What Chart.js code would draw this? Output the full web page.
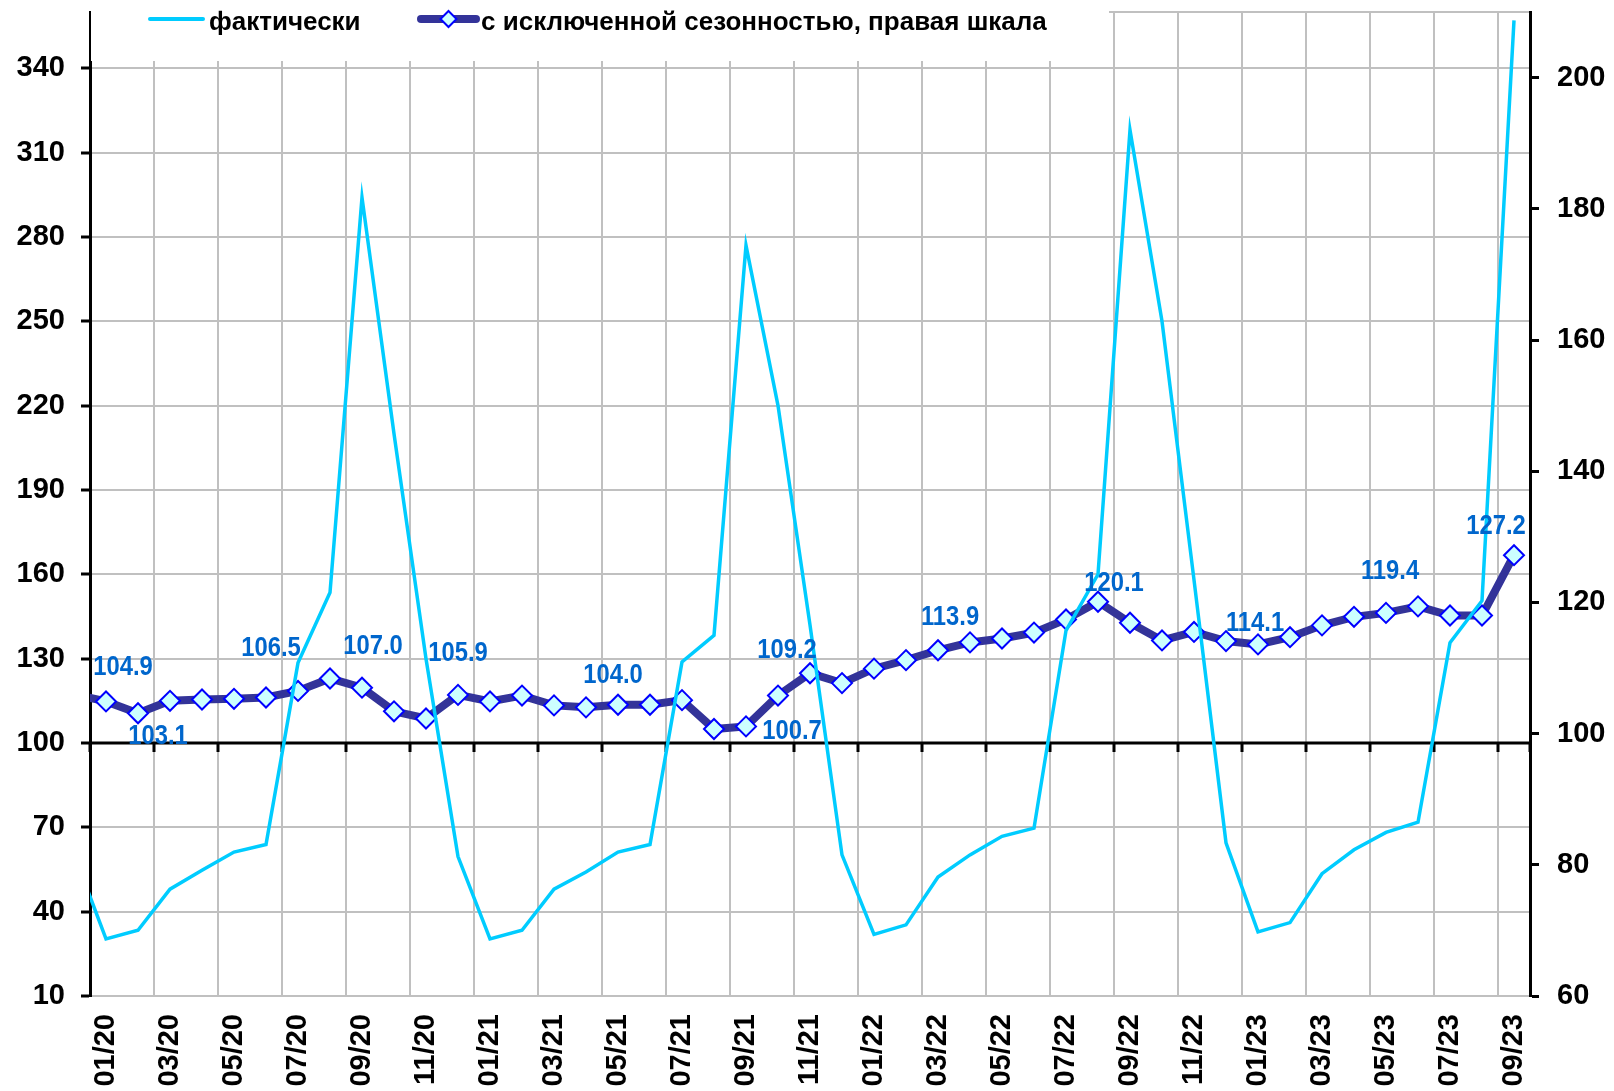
<!DOCTYPE html>
<html>
<head>
<meta charset="utf-8">
<script src="https://cdn.jsdelivr.net/npm/chart.js@4/dist/chart.umd.min.js"></script>
<style>
  html, body { margin: 0; padding: 0; background: #fff; }
  #wrap { width: 1614px; height: 1091px; position: relative; }
</style>
</head>
<body>
<div id="wrap"><canvas id="chart"></canvas></div>
<script>
// months: the first one (12/19) sits left of the visible axis and only gives the line its slope
const months = [
  '12/19',
  '01/20', '02/20', '03/20', '04/20', '05/20', '06/20', '07/20', '08/20', '09/20', '10/20', '11/20', '12/20',
  '01/21', '02/21', '03/21', '04/21', '05/21', '06/21', '07/21', '08/21', '09/21', '10/21', '11/21', '12/21',
  '01/22', '02/22', '03/22', '04/22', '05/22', '06/22', '07/22', '08/22', '09/22', '10/22', '11/22', '12/22',
  '01/23', '02/23', '03/23', '04/23', '05/23', '06/23', '07/23', '08/23', '09/23'
];

// фактически (left scale)
const actual = [
  60.5,
  30.3, 33.4, 48.0, 54.7, 61.2, 63.9, 128.5, 153.5, 294, 210, 130, 59.6,
  30.3, 33.4, 48.0, 54.1, 61.2, 63.9, 128.8, 138.3, 277, 220, 142, 60.2,
  31.9, 35.3, 52.3, 60.2, 66.8, 69.7, 140, 160, 318, 250, 158, 64.5,
  32.8, 36.1, 53.5, 62.0, 68.2, 71.8, 135.7, 150.6, 357
];

// с исключенной сезонностью (right scale)
const seasAdj = [
  106.0,
  104.9, 103.1, 105.0, 105.2, 105.3, 105.5, 106.5, 108.4, 107.0, 103.4, 102.3, 105.9,
  104.9, 105.8, 104.3, 104.0, 104.4, 104.4, 105.1, 100.7, 101.1, 105.8, 109.2, 107.7,
  109.9, 111.2, 112.7, 113.9, 114.5, 115.4, 117.4, 120.1, 116.9, 114.2, 115.5, 114.1,
  113.6, 114.7, 116.5, 117.8, 118.4, 119.4, 118.0, 118.0, 127.2
];

// x tick labels (every second month) and the boundaries where gridlines sit
const xTickLabels = [
  '01/20', '03/20', '05/20', '07/20', '09/20', '11/20',
  '01/21', '03/21', '05/21', '07/21', '09/21', '11/21',
  '01/22', '03/22', '05/22', '07/22', '09/22', '11/22',
  '01/23', '03/23', '05/23', '07/23', '09/23'
];
const xGrid = [];
for (let v = 0.5; v <= 45.5; v += 2) xGrid.push(v);
xGrid.push(45.5);

const leftTicks = [10, 40, 70, 100, 130, 160, 190, 220, 250, 280, 310, 340];
const rightTicks = [60, 80, 100, 120, 140, 160, 180, 200];

// which points of the seasonally adjusted line carry a value label
const labeledPoints = [1, 2, 7, 9, 12, 16, 20, 23, 28, 32, 36, 42, 45];
// label placement relative to its point (px)
const labelShift = {
  1: [17, -34], 2: [20, 23], 7: [-27, -43], 9: [11, -41], 12: [0, -42],
  16: [27, -32], 20: [78, 2], 23: [-23, -23], 28: [-20, -25], 32: [16, -18],
  36: [29, -18], 42: [-28, -35], 45: [-18, -29]
};

const FONT = '"Liberation Sans", Arial, sans-serif';
const CYAN = '#00CCFF';
const NAVY = '#333399';

const baseLine = {
  id: 'baseLine',
  beforeDatasetsDraw(chart) {
    const { ctx, chartArea, scales } = chart;
    const y = scales.y.getPixelForValue(100);
    ctx.save();
    ctx.strokeStyle = '#000';
    ctx.lineWidth = 3;
    ctx.beginPath();
    ctx.moveTo(chartArea.left, y);
    ctx.lineTo(chartArea.right, y);
    xGrid.forEach(v => {
      const x = scales.x.getPixelForValue(v);
      ctx.moveTo(x, y);
      ctx.lineTo(x, y + 9);
    });
    ctx.stroke();
    ctx.restore();
  }
};

// value labels: slightly condensed bold digits like the original
const valueLabels = {
  id: 'valueLabels',
  afterDatasetsDraw(chart) {
    const { ctx } = chart;
    const meta = chart.getDatasetMeta(1);
    ctx.save();
    ctx.font = 'bold 28px ' + FONT;
    ctx.fillStyle = '#0066CC';
    ctx.textAlign = 'center';
    ctx.textBaseline = 'middle';
    labeledPoints.forEach(i => {
      const pt = meta.data[i];
      const s = labelShift[i];
      ctx.save();
      ctx.translate(pt.x + s[0], pt.y + s[1]);
      ctx.scale(0.85, 1);
      ctx.fillText(seasAdj[i].toFixed(1), 0, 0);
      ctx.restore();
    });
    ctx.restore();
  }
};

const legendBox = {
  id: 'legendBox',
  afterDraw(chart) {
    const { ctx, chartArea } = chart;
    ctx.save();
    ctx.fillStyle = '#fff';
    ctx.fillRect(chartArea.left + 1, 0, 1109 - chartArea.left - 1, 61);

    const ly = 19;
    ctx.lineCap = 'round';
    ctx.strokeStyle = CYAN;
    ctx.lineWidth = 4;
    ctx.beginPath();
    ctx.moveTo(150, ly);
    ctx.lineTo(203, ly);
    ctx.stroke();

    ctx.strokeStyle = NAVY;
    ctx.lineWidth = 8;
    ctx.beginPath();
    ctx.moveTo(421, ly);
    ctx.lineTo(476, ly);
    ctx.stroke();
    ctx.fillStyle = '#CCFFFF';
    ctx.strokeStyle = '#0000FF';
    ctx.lineWidth = 2;
    ctx.beginPath();
    ctx.moveTo(448.5, ly - 8);
    ctx.lineTo(456.5, ly);
    ctx.lineTo(448.5, ly + 8);
    ctx.lineTo(440.5, ly);
    ctx.closePath();
    ctx.fill();
    ctx.stroke();

    ctx.fillStyle = '#000';
    ctx.font = 'bold 26px ' + FONT;
    ctx.textBaseline = 'alphabetic';
    ctx.textAlign = 'left';
    ctx.fillText('фактически', 209, 30);
    ctx.fillText('с исключенной сезонностью, правая шкала', 481, 30);
    ctx.restore();
  }
};

function noPad(scale) {
  scale.paddingTop = 0;
  scale.paddingBottom = 0;
  scale.paddingLeft = 0;
  scale.paddingRight = 0;
}

const ctx = document.getElementById('chart').getContext('2d');

new Chart(ctx, {
  type: 'line',
  data: {
    datasets: [
      {
        label: 'фактически',
        data: actual.map((v, i) => ({ x: i, y: v })),
        yAxisID: 'y',
        borderColor: CYAN,
        borderWidth: 3.5,
        pointRadius: 0,
        fill: false,
        tension: 0,
        clip: 0
      },
      {
        label: 'с исключенной сезонностью, правая шкала',
        data: seasAdj.map((v, i) => ({ x: i, y: v })),
        yAxisID: 'y1',
        borderColor: NAVY,
        borderWidth: 8,
        pointStyle: 'rectRot',
        pointRadius: 10,
        pointBorderWidth: 2,
        pointBackgroundColor: '#CCFFFF',
        pointBorderColor: '#0000FF',
        fill: false,
        tension: 0,
        clip: 0
      }
    ]
  },
  options: {
    responsive: true,
    maintainAspectRatio: false,
    animation: false,
    layout: { padding: { top: 8, left: 0, right: 0, bottom: 0 } },
    plugins: {
      legend: { display: false },
      tooltip: { enabled: false }
    },
    scales: {
      x: {
        type: 'linear',
        min: 0.5,
        max: 45.5,
        afterBuildTicks: scale => { scale.ticks = xGrid.map(v => ({ value: v })); },
        afterFit: scale => { scale.height = 95; noPad(scale); },
        ticks: {
          autoSkip: false,
          minRotation: 90,
          maxRotation: 90,
          labelOffset: 16,
          padding: 18,
          color: '#000',
          font: { family: FONT, size: 29, weight: 'bold' },
          callback: (value, index) => xTickLabels[index] || ''
        },
        grid: { color: '#C0C0C0', lineWidth: 2, drawTicks: false },
        border: { display: false }
      },
      y: {
        position: 'left',
        min: 10,
        max: 360,
        afterBuildTicks: scale => { scale.ticks = leftTicks.concat([360]).map(v => ({ value: v })); },
        afterFit: scale => { scale.width = 90; noPad(scale); },
        ticks: {
          padding: 16,
          color: '#000',
          font: { family: FONT, size: 29, weight: 'bold' },
          callback: v => (v === 360 ? '' : v)
        },
        grid: {
          color: '#C0C0C0',
          lineWidth: 2,
          tickLength: 9,
          tickWidth: 3,
          tickColor: c => (c.tick && c.tick.value === 360 ? 'rgba(0,0,0,0)' : '#000')
        },
        border: { display: true, color: '#000', width: 3 }
      },
      y1: {
        position: 'right',
        min: 60,
        max: 210,
        afterBuildTicks: scale => { scale.ticks = rightTicks.map(v => ({ value: v })); },
        afterFit: scale => { scale.width = 84; noPad(scale); },
        ticks: {
          padding: 18,
          color: '#000',
          font: { family: FONT, size: 29, weight: 'bold' }
        },
        grid: { drawOnChartArea: false, tickLength: 9, tickWidth: 3, tickColor: '#000' },
        border: { display: true, color: '#000', width: 3 }
      }
    }
  },
  plugins: [baseLine, valueLabels, legendBox]
});
</script>
</body>
</html>
